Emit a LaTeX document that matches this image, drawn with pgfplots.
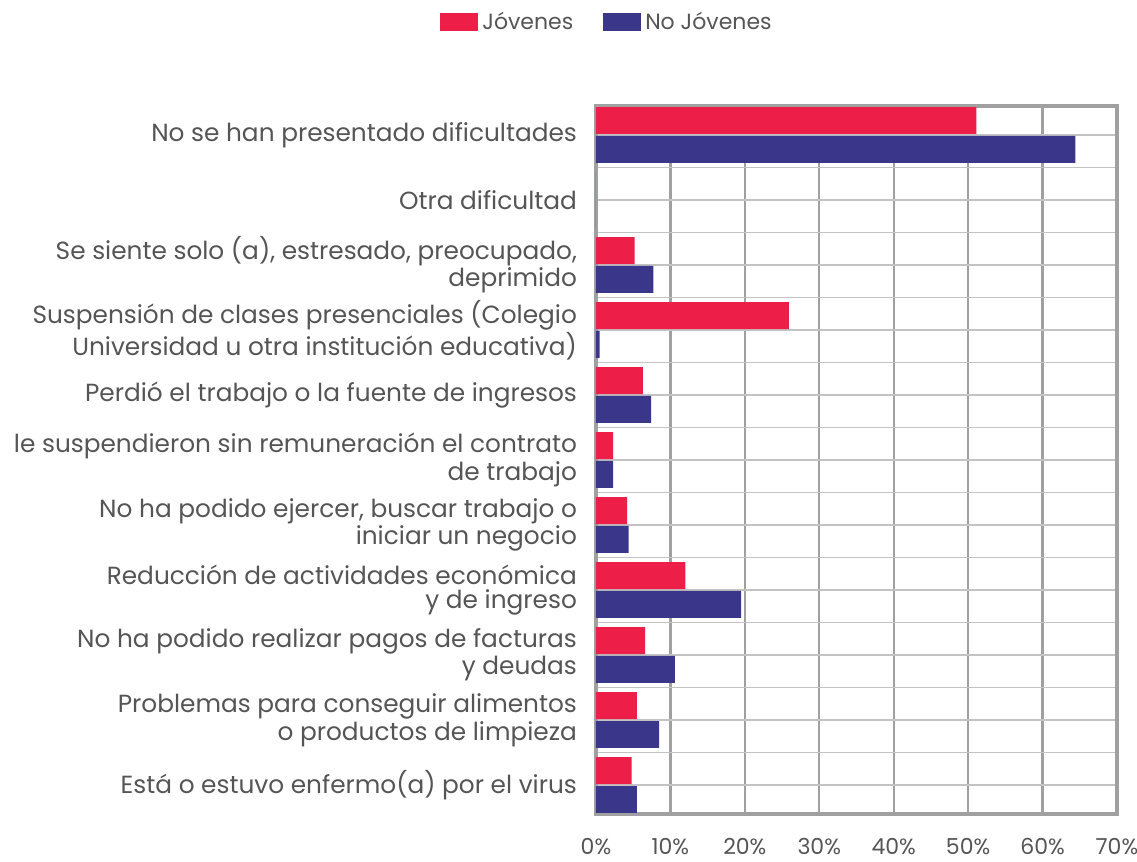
\documentclass[border=0pt]{standalone}
\usepackage{pgfplots}
\pgfplotsset{compat=1.18}
\usepackage{fontspec}
\setmainfont{Poppins}
\definecolor{jred}{RGB}{237,31,72}
\definecolor{nblue}{RGB}{58,55,139}
\definecolor{txt}{RGB}{85,85,85}
\definecolor{gridv}{RGB}{160,160,160}
\definecolor{gridh}{RGB}{195,195,195}
\begin{document}
\begin{tikzpicture}
\path[use as bounding box] (-298pt,-24pt) rectangle (270.5pt,407pt);
\begin{axis}[
  at={(0,0)}, anchor=south west,
  scale only axis, width=260.5pt, height=354pt,
  xmin=0, xmax=70, ymin=-0.445, ymax=10.445, y dir=reverse,
  xtick={0,10,...,70},
  xticklabels={0\%,10\%,20\%,30\%,40\%,50\%,60\%,70\%},
  ytick={0,...,10},
  minor ytick={0.5,1.5,...,9.5},
  yticklabels={
    No se han presentado dificultades,
    Otra dificultad,
    {Se siente solo (a), estresado, preocupado,\\deprimido},
    {Suspensión de clases presenciales (Colegio\\Universidad u otra institución educativa)},
    Perdió el trabajo o la fuente de ingresos,
    {le suspendieron sin remuneración el contrato\\de trabajo},
    {No ha podido ejercer, buscar trabajo o\\iniciar un negocio},
    {Reducción de actividades económica\\y de ingreso},
    {No ha podido realizar pagos de facturas\\y deudas},
    {Problemas para conseguir alimentos\\o productos de limpieza},
    Está o estuvo enfermo(a) por el virus
  },
  xmajorgrids, ymajorgrids, yminorgrids,
  x grid style={gridv, line width=1.1pt},
  y grid style={gridh, line width=0.8pt},
  minor y grid style={gridh, line width=0.8pt},
  major tick length=0pt, minor tick length=0pt,
  tick style={draw=none},
  axis line style={gridv, line width=1.6pt},
  yticklabel style={align=right, font=\fontsize{12.4}{11.8}\selectfont, text=txt, xshift=-6pt},
  xticklabel style={font=\fontsize{11}{12}\selectfont, text=txt, yshift=-8.5pt},
  legend style={at={(-0.311,1.1186)}, anchor=west, draw=none, fill=none,
    legend columns=2, font=\fontsize{11}{12}\selectfont, text=txt,
    /tikz/every even column/.style={column sep=13pt}},
  legend image code/.code={\fill[#1] (0pt,-4.5pt) rectangle (19pt,4.5pt);},
]
\addplot[xbar, fill=jred, draw=none, bar width=0.415, bar shift=-0.222]
  coordinates {(51.1,0) (0,1) (5.2,2) (25.9,3) (6.3,4) (2.3,5) (4.2,6) (12.0,7) (6.6,8) (5.5,9) (4.8,10)};
\addlegendentry{Jóvenes}
\addplot[xbar, fill=nblue, draw=none, bar width=0.415, bar shift=0.222]
  coordinates {(64.4,0) (0,1) (7.7,2) (0.5,3) (7.4,4) (2.3,5) (4.4,6) (19.5,7) (10.6,8) (8.5,9) (5.5,10)};
\addlegendentry{No Jóvenes}
\end{axis}
\end{tikzpicture}
\end{document}
